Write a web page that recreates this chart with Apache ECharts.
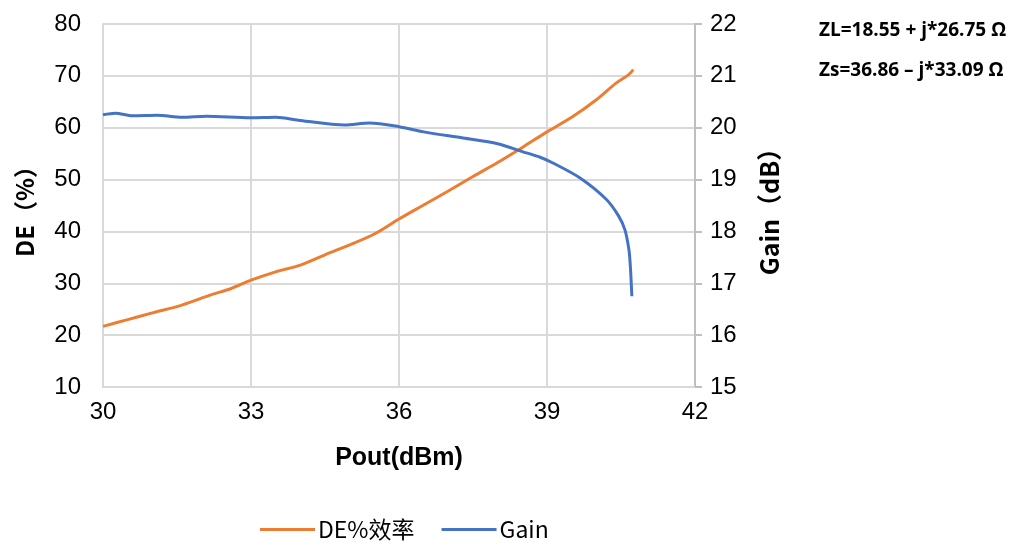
<!DOCTYPE html>
<html>
<head>
<meta charset="utf-8">
<script src="https://cdn.jsdelivr.net/npm/echarts@6/dist/echarts.min.js"></script>
<style>
  html, body { margin: 0; padding: 0; background: #fff; }
  #main { width: 1028px; height: 543px; }
</style>
</head>
<body>
<div id="main"></div>
<script>
// DE% 效率 (Pout dBm, %)
var dePout = [30.0, 30.5, 31.0, 31.6, 32.2, 32.6, 33.0, 33.5, 34.0, 34.5, 35.0, 35.5, 36.0, 36.5, 37.0, 37.5, 38.0, 38.5, 39.0, 39.5, 40.0, 40.4, 40.65, 40.75];
var deValues = [21.7, 23.0, 24.3, 25.8, 27.8, 29.0, 30.6, 32.2, 33.5, 35.5, 37.4, 39.5, 42.4, 45.1, 47.8, 50.6, 53.3, 56.2, 59.2, 62.0, 65.4, 68.6, 70.2, 71.2];

// Gain (Pout dBm, dB)
var gainPout = [30.0, 30.25, 30.6, 31.1, 31.6, 32.1, 33.0, 33.5, 34.0, 34.9, 35.4, 36.0, 36.5, 37.3, 38.0, 38.5, 38.86, 39.12, 39.67, 40.2, 40.45, 40.58, 40.66, 40.69, 40.72];
var gainValues = [20.25, 20.28, 20.23, 20.24, 20.20, 20.22, 20.19, 20.20, 20.14, 20.05, 20.09, 20.02, 19.92, 19.80, 19.69, 19.54, 19.43, 19.32, 19.03, 18.62, 18.30, 18.03, 17.65, 17.32, 16.75];

var seriesNames = ['DE%效率', 'Gain'];
var notes = ['ZL=18.55 + j*26.75 Ω', 'Zs=36.86 – j*33.09 Ω'];

function pairs(xs, ys) {
  return xs.map(function (x, i) { return [x, ys[i]]; });
}

var myChart = echarts.init(document.getElementById('main'));
var font = 'Liberation Sans, Arial, sans-serif';
var cjk = 'Noto Sans CJK SC, sans-serif';
var gridColor = '#d9d9d9';

var option = {
  animation: false,
  textStyle: { fontFamily: font },
  grid: { left: 103, top: 24, right: 333, bottom: 156 },
  legend: {
    top: 513,
    left: 255,
    icon: 'rect',
    itemWidth: 55,
    itemHeight: 3,
    itemGap: 27,
    textStyle: { fontSize: 23, color: '#000', fontFamily: cjk, padding: [0, 0, 0, -2] },
    data: seriesNames
  },
  xAxis: {
    type: 'value',
    min: 30, max: 42, interval: 3,
    name: 'Pout(dBm)',
    nameLocation: 'middle',
    nameGap: 59,
    nameTextStyle: { fontSize: 25, fontWeight: 'bold', color: '#000' },
    axisLine: { show: true, lineStyle: { color: gridColor, width: 2 } },
    axisTick: { show: false },
    axisLabel: { fontSize: 24, color: '#000', margin: 13 },
    splitLine: { show: true, lineStyle: { color: gridColor, width: 2 } }
  },
  yAxis: [{
    type: 'value',
    min: 10, max: 80, interval: 10,
    name: 'DE（%）',
    nameLocation: 'middle',
    nameRotate: 90,
    nameGap: 66,
    nameTextStyle: { fontSize: 24, fontWeight: 'bold', color: '#000', fontFamily: cjk },
    axisLine: { show: true, lineStyle: { color: gridColor, width: 2 } },
    axisTick: { show: false },
    axisLabel: { fontSize: 24, color: '#000', margin: 22 },
    splitLine: { show: true, lineStyle: { color: gridColor, width: 2 } }
  }, {
    type: 'value',
    min: 15, max: 22, interval: 1,
    name: 'Gain（dB）',
    nameLocation: 'middle',
    nameRotate: 90,
    nameGap: 62,
    nameTextStyle: { fontSize: 25, fontWeight: 'bold', color: '#000', fontFamily: cjk },
    axisLine: { show: true, lineStyle: { color: '#bfbfbf', width: 2 } },
    axisTick: { show: true, length: 7, lineStyle: { color: '#bfbfbf', width: 2 } },
    axisLabel: { fontSize: 24, color: '#000', margin: 15 },
    splitLine: { show: false }
  }],
  graphic: [{
    type: 'text', left: 819, top: 21,
    style: { text: notes[0], fill: '#000', font: 'bold 19px Open Sans, Noto Sans, sans-serif' }
  }, {
    type: 'text', left: 819, top: 61,
    style: { text: notes[1], fill: '#000', font: 'bold 19px Open Sans, Noto Sans, sans-serif' }
  }],
  series: [{
    name: seriesNames[0],
    type: 'line',
    yAxisIndex: 0,
    smooth: 0.3,
    symbol: 'none',
    lineStyle: { color: '#ED7D31', width: 3 },
    itemStyle: { color: '#ED7D31' },
    data: pairs(dePout, deValues)
  }, {
    name: seriesNames[1],
    type: 'line',
    yAxisIndex: 1,
    smooth: 0.3,
    symbol: 'none',
    lineStyle: { color: '#4472C4', width: 3 },
    itemStyle: { color: '#4472C4' },
    data: pairs(gainPout, gainValues)
  }]
};
myChart.setOption(option);
</script>
</body>
</html>
